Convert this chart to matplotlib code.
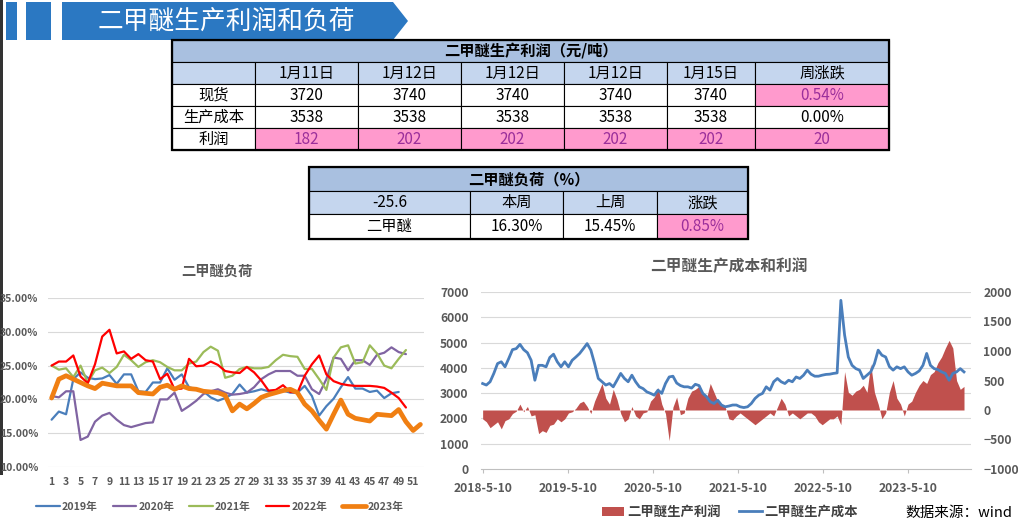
import matplotlib
matplotlib.use('Agg')
import matplotlib.pyplot as plt
import matplotlib.transforms as mtransforms
from matplotlib.patches import Rectangle, Polygon
import numpy as np
import pandas as pd

plt.rcParams['font.family'] = ['Noto Sans CJK SC', 'DejaVu Sans']

W, H = 1018, 520

# ---- data ----
banner_title = '二甲醚生产利润和负荷'

t1_title = '二甲醚生产利润（元/吨）'
t1_cols = ['1月11日', '1月12日', '1月12日', '1月12日', '1月15日', '周涨跌']
t1_rows = ['现货', '生产成本', '利润']
spot_price = [3720, 3740, 3740, 3740, 3740]
spot_chg = '0.54%'
prod_cost = [3538, 3538, 3538, 3538, 3538]
prod_cost_chg = '0.00%'
prod_profit = [182, 202, 202, 202, 202]
prod_profit_chg = '20'

t2_title = '二甲醚负荷（%）'
t2_head = ['-25.6', '本周', '上周', '涨跌']
t2_vals = ['二甲醚', '16.30%', '15.45%', '0.85%']

load_title = '二甲醚负荷'
load_years = ['2019年', '2020年', '2021年', '2022年', '2023年']
load_2019 = [17.0, 18.2, 17.8, 23.0, 24.0, 23.2, 23.0, 23.1, 23.6, 22.3,
             23.7, 23.7, 21.2, 21.1, 22.5, 22.5, 24.6, 22.9, 23.7, 21.8,
             21.5, 21.2, 20.3, 19.8, 20.2, 20.8, 22.2, 21.0, 21.2, 21.5,
             21.2, 21.0, 21.3, 21.0, 21.0, 22.0, 20.5, 17.6, 19.0, 20.1,
             21.8, 23.3, 21.6, 21.6, 21.1, 21.3, 20.2, 20.9, 21.1]
load_2020 = [20.5, 20.3, 21.2, 21.2, 14.0, 14.5, 16.7, 17.6, 18.0, 17.0,
             16.2, 15.9, 16.2, 16.5, 16.6, 20.0, 20.0, 21.0, 18.3, 19.0,
             19.8, 20.8, 21.2, 21.5, 21.0, 20.7, 20.8, 21.0, 21.8, 23.0,
             23.7, 24.2, 24.2, 24.2, 23.5, 23.5, 21.5, 20.8, 23.0, 26.2,
             26.0, 24.3, 25.8, 25.8, 25.1, 26.6, 26.9, 27.7, 27.0, 26.7]
load_2021 = [25.0, 24.4, 24.6, 23.3, 25.0, 22.5, 24.3, 24.7, 23.9, 24.8,
             26.6, 25.8, 24.8, 25.5, 25.8, 25.5, 24.8, 24.3, 24.3, 25.3,
             25.6, 27.0, 27.8, 27.2, 23.2, 23.5, 24.5, 24.8, 24.6, 24.6,
             24.8, 25.8, 26.6, 26.4, 26.3, 24.5, 24.5, 23.0, 21.4, 26.2,
             27.7, 28.0, 25.3, 25.5, 28.0, 26.8, 25.0, 24.6, 26.0, 27.3]
load_2022 = [25.0, 25.6, 25.6, 26.5, 23.4, 22.4, 25.2, 29.3, 30.3, 26.8,
             27.1, 26.0, 26.7, 25.8, 25.6, 23.0, 23.8, 21.5, 21.6, 26.0,
             24.9, 25.0, 25.6, 25.1, 24.2, 24.0, 23.9, 24.8, 24.0, 22.8,
             21.3, 21.4, 22.1, 21.1, 21.0, 23.5, 25.2, 26.5, 23.7, 22.7,
             22.3, 22.1, 22.0, 22.0, 22.0, 21.9, 21.7, 21.0, 20.2, 18.8]
load_2023 = [20.2, 23.0, 23.5, 23.0, 22.5, 22.0, 21.6, 22.4, 22.2, 22.0,
             22.0, 22.0, 21.0, 20.9, 20.8, 21.8, 22.1, 21.5, 22.0, 21.6,
             21.5, 21.2, 21.1, 21.0, 20.6, 18.3, 19.3, 18.6, 19.4, 20.3,
             20.7, 21.0, 21.3, 21.5, 21.0, 19.3, 18.3, 16.9, 15.6, 17.8,
             19.9, 17.8, 17.2, 17.0, 16.8, 17.8, 17.7, 17.6, 18.5, 16.7,
             15.4, 16.3]
week_ticks = list(range(1, 52, 2))

cp_title = '二甲醚生产成本和利润'
cp_labels = ['二甲醚生产利润', '二甲醚生产成本']
cp_start = '2018-05-10'
date_ticks = ['2018-5-10', '2019-5-10', '2020-5-10', '2021-5-10', '2022-5-10', '2023-5-10']
cost = [3380, 3320, 3450, 3780, 4170, 4240, 4040, 4370, 4720, 4760,
        4930, 4720, 4600, 4300, 3510, 4100, 4100, 4040, 4410, 4540,
        4240, 4040, 4240, 4040, 4300, 4430, 4570, 4760, 4960, 4700,
        4170, 3580, 3450, 3320, 3380, 3250, 3510, 3780, 3580, 3450,
        3710, 3450, 3250, 3180, 3050, 2990, 2920, 3120, 2990, 3380,
        3640, 3670, 3400, 3300, 3250, 3250, 3200, 3350, 3300, 2990,
        2860, 2660, 2590, 2720, 2530, 2460, 2490, 2530, 2530, 2460,
        2430, 2460, 2590, 2790, 2920, 2990, 3250, 3120, 3450, 3580,
        3450, 3380, 3510, 3450, 3640, 3580, 3710, 3910, 3750, 3670,
        3670, 3710, 3740, 3750, 3780, 3800, 6670, 5300, 4430, 4100,
        3970, 3910, 3580, 3710, 3840, 4170, 4700, 4500, 4430, 4050,
        3910, 4040, 3970, 4040, 3840, 3710, 3780, 3880, 4100, 4570,
        4100, 3970, 3930, 3840, 3780, 3510, 3780, 3840, 3970, 3840]
profit = [-150, -200, -300, -250, -200, -320, -180, -150, -60, -20,
          100, -30, 60, -100, -80, -400, -350, -380, -260, -240,
          -150, -200, -150, -50, -30, 30, 120, 150, 60, -60,
          150, 300, 450, 200, 100, 350, 180, -60, -200, -150,
          60, -100, -150, -50, -30, 150, 220, 380, 100, -60,
          -520, 50, 220, -80, -50, 200, 320, 350, 400, 300,
          200, 450, 300, 150, 100, 50, -150, -170, -100, -50,
          -100, -150, -200, -250, -200, -150, -100, -50, -100, 50,
          200, 100, -100, -50, -100, -150, -100, -50, -50, -100,
          -200, -250, -200, -150, -150, -100, -250, 650, 300, 250,
          320, 350, 420, 300, 780, 300, 100, -150, -50, 300,
          500, 200, 100, -100, 100, 150, 300, 420, 500, 450,
          600, 650, 800, 900, 1050, 1180, 1050, 500, 350, 400]
source_note = '数据来源：wind'

GRAY = '#595959'
GRID = '#D9D9D9'
HEAD_BLUE = '#A9C0E0'
ROW_BLUE = '#C5D6EE'
PINK = '#FF9ACD'
PINK_TXT = '#9B2F9B'


def px_axes(x0, y0, x1, y1):
    return fig.add_axes([x0 / W, 1 - y1 / H, (x1 - x0) / W, (y1 - y0) / H])


fig = plt.figure(figsize=(W / 100, H / 100), dpi=100)

# overlay in pixel coordinates for banner and tables
ov = fig.add_axes([0, 0, 1, 1])
ov.set_xlim(0, W)
ov.set_ylim(H, 0)
ov.axis('off')

BLUE = '#2B78C2'
ov.add_patch(Rectangle((0, 0), 3, 475, color='#333333', lw=0))
ov.add_patch(Rectangle((6, 2), 11, 38, color=BLUE, lw=0))
ov.add_patch(Rectangle((26, 2), 25, 38, color=BLUE, lw=0))
ov.add_patch(Polygon([(62, 2), (393, 2), (408, 21), (393, 40), (62, 40)], color=BLUE, lw=0))
ov.text(226, 22, banner_title, color='white', fontsize=18.5, ha='center', va='center')


def cell(x0, x1, y0, y1, text, bg='white', color='black', bold=False, size=11):
    ov.add_patch(Rectangle((x0, y0), x1 - x0, y1 - y0, facecolor=bg, edgecolor='black', lw=0.8))
    ov.text((x0 + x1) / 2, (y0 + y1) / 2, text, ha='center', va='center', color=color,
            fontsize=size, fontweight='bold' if bold else 'normal')


# table 1
xs = [172, 255, 358, 461, 564, 667, 755, 889]
ys = [40, 62, 84, 106, 128, 150]
cell(xs[0], xs[-1], ys[0], ys[1], t1_title, bg=HEAD_BLUE, bold=True)
cell(xs[0], xs[1], ys[1], ys[2], '', bg=ROW_BLUE)
for i, c in enumerate(t1_cols):
    cell(xs[i + 1], xs[i + 2], ys[1], ys[2], c, bg=ROW_BLUE)
rows = [(spot_price, spot_chg, False, True), (prod_cost, prod_cost_chg, False, False),
        (prod_profit, prod_profit_chg, True, True)]
for r, (vals, chg, pink_row, pink_chg) in enumerate(rows):
    y0, y1 = ys[r + 2], ys[r + 3]
    cell(xs[0], xs[1], y0, y1, t1_rows[r])
    for i, v in enumerate(vals):
        cell(xs[i + 1], xs[i + 2], y0, y1, str(v),
             bg=PINK if pink_row else 'white', color=PINK_TXT if pink_row else 'black')
    cell(xs[6], xs[7], y0, y1, chg, bg=PINK if pink_chg else 'white',
         color=PINK_TXT if pink_chg else 'black')
ov.add_patch(Rectangle((xs[0], ys[0]), xs[-1] - xs[0], ys[-1] - ys[0], fill=False, edgecolor='black', lw=1.6))

# table 2
xs2 = [309, 470, 563, 657, 748]
ys2 = [167, 191, 214, 239]
cell(xs2[0], xs2[-1], ys2[0], ys2[1], t2_title, bg=HEAD_BLUE, bold=True)
for i in range(4):
    cell(xs2[i], xs2[i + 1], ys2[1], ys2[2], t2_head[i], bg=ROW_BLUE)
    last = i == 3
    cell(xs2[i], xs2[i + 1], ys2[2], ys2[3], t2_vals[i], bg=PINK if last else 'white',
         color=PINK_TXT if last else 'black')
ov.add_patch(Rectangle((xs2[0], ys2[0]), xs2[-1] - xs2[0], ys2[-1] - ys2[0], fill=False, edgecolor='black', lw=1.6))

# ---- left chart: load ----
ov.text(217, 272, load_title, ha='center', va='center', fontsize=10.3, fontweight='bold', color=GRAY)
ax_l = px_axes(48, 298, 424, 467)
series = [load_2019, load_2020, load_2021, load_2022, load_2023]
colors = ['#4A7EBB', '#8064A2', '#9BBB59', '#FF0000', '#F07F12']
widths = [1.6, 1.6, 1.6, 1.6, 3.4]
for lab, vals, c, lw in zip(load_years, series, colors, widths):
    ax_l.plot(np.arange(1, len(vals) + 1), vals, color=c, lw=lw, label=lab,
              solid_joinstyle='round', solid_capstyle='round')
ax_l.set_xlim(0.5, 52.5)
ax_l.set_ylim(10, 35)
ax_l.set_yticks([10, 15, 20, 25, 30, 35])
ax_l.set_yticklabels([f'{v:.2f}%' for v in ax_l.get_yticks()])
ax_l.set_xticks(week_ticks)
ax_l.grid(axis='y', color=GRID, lw=0.8)
ax_l.set_axisbelow(True)
for s in ax_l.spines.values():
    s.set_visible(False)
ax_l.tick_params(length=0, labelsize=7.5, labelcolor=GRAY)
ax_l.tick_params(axis='y', pad=7)
ax_l.tick_params(axis='x', pad=7)
for t in ax_l.get_xticklabels() + ax_l.get_yticklabels():
    t.set_fontweight('bold')
ax_l.legend(loc='center', bbox_to_anchor=(220 / W, 1 - 507 / H), bbox_transform=fig.transFigure,
            ncol=5, frameon=False, prop=dict(size=7.7, weight='bold'), labelcolor=GRAY,
            handlelength=2.2, handletextpad=0.2, columnspacing=1.4)

# ---- right chart: cost and profit ----
ov.text(729, 266, cp_title, ha='center', va='center', fontsize=11.3, fontweight='bold', color=GRAY)
ax_c = px_axes(481, 292, 971, 469)
ax_p = ax_c.twinx()
ax_c.set_zorder(ax_p.get_zorder() + 1)
ax_c.patch.set_visible(False)
dates = pd.date_range(cp_start, periods=len(cost), freq='16D')
fill = ax_p.fill_between(dates, profit, 0, color='#C0504D', lw=0, label=cp_labels[0])
line, = ax_c.plot(dates, cost, color='#4A7EBB', lw=2.0, label=cp_labels[1])
ax_c.set_ylim(0, 7000)
ax_p.set_ylim(-1000, 2000)
ax_c.set_yticks(range(0, 7001, 1000))
ax_p.set_yticks(range(-1000, 2001, 500))
blend = mtransforms.blended_transform_factory(ax_p.transAxes, ax_c.transData)
for v in range(1000, 7001, 1000):
    ax_p.plot([0, 1], [v, v], transform=blend, color=GRID, lw=0.8, zorder=0)
ax_c.set_xlim(pd.Timestamp('2018-05-03'), pd.Timestamp('2024-02-02'))
ax_c.set_xticks(pd.to_datetime(date_ticks))
ax_c.set_xticklabels(date_ticks)
for a in (ax_c, ax_p):
    for s in a.spines.values():
        s.set_visible(False)
ax_c.spines['bottom'].set_visible(True)
ax_c.spines['bottom'].set_color('#BFBFBF')
ax_c.tick_params(axis='y', length=0, pad=9, labelsize=8.7, labelcolor=GRAY)
ax_p.tick_params(axis='y', length=0, pad=9, labelsize=8.7, labelcolor=GRAY)
ax_c.tick_params(axis='x', length=3, color='#BFBFBF', pad=6, labelsize=8.7, labelcolor=GRAY)
for t in ax_c.get_xticklabels() + ax_c.get_yticklabels() + ax_p.get_yticklabels():
    t.set_fontweight('bold')
ax_c.legend([fill, line], cp_labels, loc='center', bbox_to_anchor=(730 / W, 1 - 512 / H),
            bbox_transform=fig.transFigure, ncol=2, frameon=False,
            prop=dict(size=9.6, weight='bold'), labelcolor='#404040',
            handlelength=1.7, handletextpad=0.2, columnspacing=1.4)
ov.text(905, 506, source_note, ha='left', va='top', fontsize=10.5, color='black')

fig.savefig('out.png', dpi=100)
